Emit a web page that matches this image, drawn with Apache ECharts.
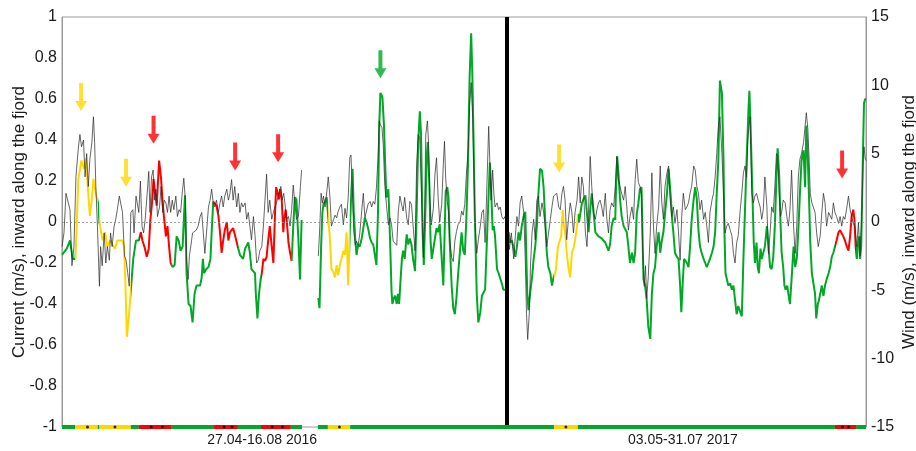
<!DOCTYPE html>
<html>
<head>
<meta charset="utf-8">
<script src="https://cdn.jsdelivr.net/npm/echarts@6/dist/echarts.min.js"></script>
<style>
  html, body { margin: 0; padding: 0; background: #fff; }
  #chart { width: 916px; height: 451px; }
</style>
</head>
<body>
<div id="chart"></div>
<script>
// Time axis in days since the start of the first record; the 2017 record follows the 2016 one.
const SEP = 111.8;
const X_MAX = 202;

// Period labels and where they sit along the time axis
const periodLabels = ['27.04-16.08 2016', '03.05-31.07 2017'];
const periodLabelDays = [50.3, 156];

// Regime intervals [startDay, endDay, kind]; kind null = no data
const regimeSegments = [
  [0, 3.3, 'g'], [3.3, 9.0, 'y'], [9.0, 9.4, 'g'], [9.4, 17.3, 'y'], [17.3, 19.3, 'g'],
  [19.3, 27.4, 'r'], [27.4, 38.2, 'g'], [38.2, 44.2, 'r'], [44.2, 50.0, 'g'], [50.0, 57.5, 'r'],
  [57.5, 60.3, 'g'], [60.3, 64.3, null], [64.3, 66.8, 'g'], [66.8, 72.4, 'y'], [72.4, 111.8, 'g'],
  [111.8, 123.6, 'g'], [123.6, 129.6, 'y'], [129.6, 194.2, 'g'], [194.2, 199.5, 'r'], [199.5, 202, 'g']
];

// Event markers on the regime bar (days)
const eventDays = [6.4, 13.3, 22.4, 25.2, 40.7, 42.7, 52.8, 55.4, 69.7, 126.6, 196.1, 197.6];

// Event arrows [day, current level (m/s) at arrow centre, kind]
const eventArrows = [
  [4.8, 0.61, 'y'], [16.1, 0.24, 'y'], [23.0, 0.45, 'r'], [43.5, 0.32, 'r'],
  [54.3, 0.36, 'r'], [80.0, 0.77, 'g'], [124.9, 0.31, 'y'], [196.0, 0.28, 'r']
];

// Along-fjord current (m/s) [day, value]
const currentObs = [
  [0,-0.16],[1.2,-0.13],[2.0,-0.09],[2.7,-0.18],[3.4,-0.18],[4.1,0.21],[4.9,0.30],[5.5,0.26],[6.0,0.31],[6.6,0.14],
  [7.0,0.03],[7.5,0.11],[7.9,0.21],[8.5,0.14],[9.1,0.09],[9.4,0.0],[10.2,-0.09],[10.8,-0.05],[11.4,-0.12],[12.1,-0.09],
  [12.7,-0.11],[13.3,-0.13],[13.9,-0.09],[14.6,-0.09],[15.2,-0.09],[15.6,-0.12],[15.9,-0.28],[16.3,-0.56],[16.8,-0.46],[17.3,-0.33],
  [17.9,-0.18],[18.6,-0.09],[19.3,-0.09],[19.8,-0.05],[20.2,-0.09],[20.7,-0.12],[21.3,-0.17],[21.8,-0.13],[22.2,0.01],[22.6,0.09],
  [23.0,0.21],[23.4,0.14],[23.8,0.08],[24.4,0.30],[24.9,0.21],[25.3,0.09],[25.7,0.01],[26.1,-0.07],[26.5,-0.02],[26.9,-0.12],
  [27.3,-0.20],[27.8,-0.22],[28.3,-0.21],[28.8,-0.07],[29.3,-0.09],[29.8,-0.14],[30.3,-0.12],[30.9,0.13],[31.3,-0.25],[31.8,-0.40],
  [32.3,-0.41],[32.8,-0.49],[33.3,-0.35],[33.8,-0.31],[34.7,-0.31],[35.1,-0.27],[35.4,-0.18],[35.7,-0.25],[36.2,-0.23],[36.8,-0.22],
  [37.3,-0.18],[37.6,-0.05],[38.0,0.10],[38.4,0.10],[38.8,0.08],[39.3,0.03],[39.7,-0.05],[40.1,-0.15],[40.5,-0.09],[40.9,-0.04],
  [41.4,0.0],[41.8,-0.09],[42.2,-0.05],[42.6,-0.04],[43.0,-0.03],[43.4,-0.06],[43.9,-0.06],[44.3,-0.13],[44.7,-0.16],[45.1,-0.17],
  [45.5,-0.18],[46.0,-0.13],[46.4,-0.13],[46.8,-0.10],[47.2,-0.15],[47.6,-0.23],[48.1,-0.23],[48.5,-0.25],[48.7,-0.35],[49.1,-0.47],
  [49.5,-0.35],[49.9,-0.28],[50.2,-0.25],[50.6,-0.18],[51.0,-0.19],[51.4,-0.17],[51.8,-0.09],[52.2,-0.02],[52.7,-0.12],[53.1,-0.20],
  [53.5,0.03],[53.8,0.17],[54.2,0.14],[54.5,0.11],[54.8,0.16],[55.2,0.11],[55.6,-0.05],[55.8,0.01],[56.2,0.06],[56.5,0.0],
  [56.9,-0.10],[57.3,-0.15],[57.7,-0.19],[58.1,-0.02],[58.5,0.12],[58.9,0.11],[59.4,-0.09],[59.8,-0.28],[60.2,0.01],[62,null],
  [64.4,-0.37],[64.7,-0.42],[65.1,-0.12],[65.4,0.04],[65.7,0.09],[66.1,0.10],[66.5,0.12],[66.9,0.12],[67.3,-0.08],[67.7,-0.23],
  [68.1,-0.24],[68.6,-0.27],[69.0,-0.21],[69.4,-0.26],[69.8,-0.21],[70.2,-0.18],[70.7,-0.14],[71.1,-0.16],[71.5,-0.05],[71.9,-0.31],
  [72.3,-0.05],[72.7,0.15],[73.0,0.26],[73.3,0.05],[73.7,-0.09],[74.0,-0.16],[74.4,-0.11],[74.8,-0.12],[75.3,-0.08],[75.7,-0.03],
  [76.1,0.02],[76.5,0.0],[76.9,-0.03],[77.4,-0.08],[77.8,-0.10],[78.2,-0.11],[78.6,-0.16],[79.0,-0.21],[79.4,0.05],[79.7,0.47],
  [80.0,0.63],[80.5,0.61],[80.9,0.47],[81.2,0.28],[81.5,0.12],[82.0,0.16],[82.2,0.05],[82.5,-0.14],[82.8,-0.34],[83.0,-0.40],
  [83.4,-0.37],[83.7,-0.36],[84.1,-0.40],[84.4,-0.35],[84.7,-0.40],[85.1,-0.27],[85.4,-0.18],[85.7,-0.14],[86.1,-0.18],[86.6,-0.06],
  [87.0,-0.11],[87.4,-0.08],[87.8,-0.11],[88.2,-0.18],[88.7,-0.24],[89.1,0.05],[89.5,0.39],[89.9,0.54],[90.2,0.43],[90.6,-0.05],
  [90.9,-0.21],[91.3,0.05],[91.6,0.31],[91.9,0.39],[92.3,0.18],[92.6,-0.09],[92.9,-0.18],[93.3,-0.13],[93.7,-0.08],[94.1,-0.03],
  [94.5,-0.05],[94.9,-0.01],[95.4,-0.18],[95.8,-0.31],[96.1,-0.08],[96.4,0.15],[96.8,0.17],[97.1,0.12],[97.4,-0.09],[97.9,-0.31],
  [98.3,-0.42],[98.7,-0.45],[99.1,-0.37],[99.5,-0.26],[100.0,-0.14],[100.4,-0.05],[100.8,-0.14],[101.2,-0.16],[101.6,0.02],[102.0,0.28],
  [102.4,0.70],[102.8,0.92],[103.1,0.72],[103.4,0.40],[103.7,0.05],[104.2,-0.35],[104.6,-0.49],[105.1,-0.44],[105.5,-0.36],[105.9,-0.36],
  [106.3,-0.33],[106.7,-0.12],[107.2,0.14],[107.5,0.29],[107.8,0.17],[108.2,-0.04],[108.5,-0.02],[108.8,-0.07],[109.3,-0.23],[109.7,-0.25],
  [110.1,-0.25],[110.5,-0.30],[110.9,-0.33],[111.3,-0.33],[111.8,-0.33],
  [112.2,-0.05],[112.6,-0.10],[113.0,-0.09],[113.4,-0.12],[113.9,-0.17],[114.3,-0.12],[114.7,-0.05],[115.1,-0.09],[115.5,-0.02],[116.0,0.03],
  [116.4,0.05],[116.6,-0.12],[116.9,-0.35],[117.2,-0.43],[117.6,-0.35],[118.1,-0.27],[118.5,-0.18],[118.9,-0.12],[119.3,-0.02],[119.7,0.14],
  [120.1,0.26],[120.6,0.25],[121.0,0.17],[121.4,0.01],[121.8,-0.15],[122.2,-0.22],[122.7,-0.25],[123.1,-0.31],[123.5,-0.27],[123.9,-0.25],
  [124.1,-0.23],[124.6,-0.12],[125.0,-0.12],[125.4,-0.07],[125.8,0.06],[126.1,-0.02],[126.4,-0.05],[126.8,-0.15],[127.3,-0.23],[127.7,-0.27],
  [128.1,-0.15],[128.5,-0.13],[128.9,-0.09],[129.4,-0.02],[129.6,0.04],[129.9,0.0],[130.3,0.05],[130.6,0.09],[131.0,0.11],[131.5,0.13],
  [131.9,0.04],[132.3,-0.05],[132.7,0.06],[133.1,0.14],[133.5,0.06],[134.0,-0.05],[134.4,-0.06],[134.8,-0.07],[135.2,-0.07],[135.6,-0.08],
  [136.0,-0.09],[136.5,-0.10],[136.9,-0.12],[137.3,-0.14],[137.7,-0.11],[138.1,-0.02],[138.6,0.02],[139.0,0.01],[139.2,0.17],[139.5,0.32],
  [139.8,0.24],[140.2,0.11],[140.6,0.03],[141.1,-0.02],[141.5,-0.02],[141.9,-0.05],[142.3,-0.12],[142.7,-0.20],[143.2,-0.15],[143.6,-0.20],
  [144.0,-0.15],[144.4,0.04],[144.8,0.09],[145.2,0.16],[145.6,0.17],[145.8,-0.02],[146.1,-0.28],[146.5,-0.31],[146.9,-0.38],[147.3,-0.51],
  [147.8,-0.57],[148.2,-0.35],[148.6,-0.25],[149.0,-0.22],[149.4,-0.12],[149.9,-0.05],[150.3,-0.15],[150.7,-0.09],[151.1,-0.05],[151.5,0.04],
  [152.0,0.14],[152.4,0.26],[152.6,0.21],[153.0,0.11],[153.3,0.01],[153.6,-0.05],[154.0,-0.15],[154.5,-0.17],[154.9,-0.18],[155.3,-0.31],
  [155.6,-0.44],[156.0,-0.28],[156.3,-0.18],[156.6,-0.18],[157.0,-0.20],[157.4,-0.22],[157.8,-0.12],[158.2,0.01],[158.7,0.11],[159.1,0.17],
  [159.5,0.11],[159.9,-0.04],[160.3,-0.12],[160.7,-0.15],[161.2,-0.18],[161.6,-0.20],[162.0,-0.22],[162.4,-0.20],[162.8,-0.18],[163.3,-0.15],
  [163.7,-0.12],[164.1,-0.05],[164.5,0.14],[164.9,0.30],[165.3,0.69],[165.8,0.63],[166.2,0.30],[166.4,-0.02],[166.7,-0.25],[167.0,-0.25],
  [167.4,-0.31],[167.9,-0.30],[168.3,-0.33],[168.7,-0.31],[169.1,-0.38],[169.5,-0.45],[169.9,-0.41],[170.4,-0.41],[170.8,-0.46],[171.2,-0.18],
  [171.6,0.06],[172.0,0.30],[172.5,0.56],[172.7,0.64],[173.0,0.47],[173.5,0.11],[173.8,-0.10],[174.1,-0.20],[174.5,-0.10],[174.8,-0.22],
  [175.1,-0.25],[175.5,-0.13],[175.8,-0.18],[176.2,-0.18],[176.6,-0.12],[177.1,-0.02],[177.5,-0.12],[177.9,-0.22],[178.3,-0.23],[178.7,-0.17],
  [179.1,-0.02],[179.5,0.22],[179.8,0.36],[180.2,0.22],[180.5,0.01],[180.8,-0.15],[181.2,-0.22],[181.5,-0.31],[181.8,-0.33],[182.2,-0.31],
  [182.5,-0.35],[182.9,-0.40],[183.3,-0.28],[183.8,-0.12],[184.2,-0.22],[184.6,-0.18],[185.0,-0.04],[185.4,0.14],[185.8,0.30],[186.3,0.35],
  [186.7,0.17],[187.0,0.47],[187.4,0.30],[187.7,0.11],[188.0,-0.10],[188.4,-0.25],[188.8,-0.25],[189.2,-0.35],[189.5,-0.47],[189.9,-0.40],
  [190.2,-0.38],[190.5,-0.35],[190.9,-0.31],[191.3,-0.36],[191.7,-0.31],[192.1,-0.28],[192.6,-0.25],[193.0,-0.22],[193.4,-0.17],[193.8,-0.15],
  [194.2,-0.15],[194.6,-0.09],[195.1,-0.05],[195.5,-0.04],[195.9,-0.04],[196.3,-0.07],[196.7,-0.09],[197.2,-0.12],[197.6,-0.14],[198.0,-0.07],
  [198.4,0.03],[198.8,0.06],[199.1,0.01],[199.4,-0.12],[199.7,-0.18],[199.9,-0.12],[200.3,-0.07],[200.5,-0.18],[200.8,-0.12],[201.2,0.30],
  [201.5,0.58],[201.8,0.60],[202.0,0.60]
];

// Along-fjord wind (m/s) [day, value]
const windObs = [
  [0,-1.8],[0.5,-0.8],[1.0,2.1],[1.5,2.2],[2.0,0.9],[2.5,-3.2],[3.0,-1.8],[3.5,3.3],[4.1,5.4],[4.5,6.4],
  [4.9,5.5],[5.4,6.0],[5.8,3.3],[6.2,5.0],[6.6,2.6],[7.0,4.6],[7.5,5.8],[7.9,7.7],[8.2,5.8],[8.5,2.6],
  [8.9,-0.3],[9.4,-4.7],[9.7,-1.8],[10.1,-3.2],[10.6,-0.8],[11.0,-3.0],[11.4,-1.8],[11.9,-2.8],[12.2,-0.8],[12.6,-1.8],
  [13.1,-0.3],[13.5,0.2],[13.9,0.9],[14.4,1.9],[14.8,2.0],[15.2,0.7],[15.7,-2.5],[16.1,-2.8],[16.5,-3.7],[16.9,-4.7],
  [17.3,0.7],[17.8,0.9],[18.1,-0.8],[18.6,1.9],[18.9,1.4],[19.3,0.7],[19.7,3.0],[20.1,-0.3],[20.5,-0.8],[20.9,0.2],
  [21.4,2.1],[21.8,3.7],[22.1,0.7],[22.5,3.3],[22.9,3.8],[23.2,1.6],[23.6,2.4],[24.0,0.4],[24.5,1.1],[24.9,2.6],
  [25.3,0.7],[25.7,1.6],[26.1,1.4],[26.5,0.7],[26.9,1.9],[27.3,0.7],[27.7,1.6],[28.1,0.9],[28.6,1.9],[29.0,0.4],
  [29.4,0.9],[29.8,0.7],[30.2,2.1],[30.6,3.2],[31.0,1.6],[31.3,-2.8],[31.7,-4.2],[32.0,-2.5],[32.4,-1.7],[32.8,-0.8],
  [33.2,-0.8],[33.7,-0.6],[34.2,-0.3],[34.7,0.4],[35.1,0.7],[35.5,-0.8],[35.9,-2.3],[36.3,-0.8],[36.8,1.1],[37.2,1.6],
  [37.6,2.4],[38.0,1.4],[38.4,1.1],[38.8,1.6],[39.3,0.7],[39.7,1.4],[40.1,1.9],[40.5,1.1],[40.9,1.9],[41.4,2.4],
  [41.8,1.6],[42.2,2.1],[42.6,3.1],[43.0,1.6],[43.4,2.6],[43.9,1.1],[44.3,2.1],[44.7,0.7],[45.1,1.4],[45.5,1.1],
  [46.0,1.4],[46.4,0.2],[46.8,0.7],[47.2,-0.3],[47.6,-1.3],[48.1,0.4],[48.5,-1.0],[48.9,-3.0],[49.3,-2.8],[49.7,-2.1],
  [50.2,-1.8],[50.6,-0.3],[51.0,1.6],[51.4,3.5],[51.8,0.7],[52.2,1.6],[52.7,0.2],[53.1,0.7],[53.5,1.1],[53.9,1.4],
  [54.3,1.9],[54.8,2.4],[55.0,2.6],[55.3,1.6],[55.7,2.1],[56.0,1.4],[56.4,0.2],[56.9,0.4],[57.3,-0.3],[57.7,0.9],
  [58.1,2.7],[58.5,1.4],[58.9,0.2],[59.4,0.4],[59.9,2.6],[60.2,3.8],[62,null],[64.4,-2.5],[64.7,-0.8],[65.1,2.1],
  [65.4,1.4],[65.7,1.9],[66.1,1.1],[66.6,2.4],[66.9,3.3],[67.3,1.9],[67.7,-0.3],[68.1,-0.2],[68.6,0.5],[69.0,0.3],
  [69.4,0.8],[69.8,1.1],[70.2,1.3],[70.7,-0.2],[71.1,1.0],[71.5,0.3],[71.9,1.8],[72.3,4.7],[72.6,4.9],[72.9,2.7],
  [73.3,-0.7],[73.7,-1.7],[74.0,-1.4],[74.4,-1.7],[74.8,-0.9],[75.3,0.8],[75.7,2.1],[76.1,0.3],[76.5,0.8],[76.9,1.3],
  [77.4,1.5],[77.8,1.1],[78.2,1.5],[78.6,1.3],[79.0,2.5],[79.4,4.7],[79.7,7.4],[80.0,7.1],[80.4,6.9],[80.7,5.7],
  [81.1,2.7],[81.5,1.3],[82.0,-0.2],[82.4,0.3],[82.8,-0.2],[83.2,-1.4],[83.6,-1.4],[84.1,-1.7],[84.5,0.8],[84.9,1.9],
  [85.3,1.3],[85.7,0.8],[86.1,1.8],[86.6,0.3],[87.0,-0.2],[87.4,1.5],[87.8,1.3],[88.2,-0.2],[88.7,-2.1],[89.1,4.2],
  [89.5,6.4],[89.9,6.1],[90.3,2.2],[90.8,-2.6],[91.1,0.8],[91.4,6.4],[91.8,7.4],[92.1,5.7],[92.4,1.8],[92.8,-0.2],
  [93.3,1.0],[93.7,3.5],[94.1,4.7],[94.5,1.8],[94.9,0.0],[95.4,1.3],[95.8,4.2],[96.1,5.9],[96.4,3.2],[96.8,1.5],
  [97.1,0.8],[97.4,-1.2],[97.9,-2.6],[98.3,-2.9],[98.7,-1.4],[99.1,-0.7],[99.5,-0.2],[100.0,0.0],[100.4,0.8],[100.8,0.5],
  [101.2,1.3],[101.6,3.5],[102.0,5.0],[102.4,8.5],[102.8,10.2],[103.2,7.5],[103.5,3.5],[103.8,-0.3],[104.2,-2.3],[104.6,-1.3],
  [105.1,-0.3],[105.5,0.7],[105.9,0.9],[106.3,-1.5],[106.7,2.1],[107.2,7.0],[107.5,4.3],[107.8,1.6],[108.2,3.8],[108.5,2.1],
  [108.8,1.1],[109.3,1.4],[109.7,0.9],[110.1,1.1],[110.5,0.4],[110.9,0.2],[111.3,0.4],[112.0,-0.6],[112.4,-2.0],[112.9,-0.8],
  [113.2,-1.8],[113.5,-2.7],[113.9,-1.0],[114.3,0.4],[114.7,-0.3],[115.1,1.4],[115.5,1.9],[116.0,0.7],[116.4,-2.8],[116.7,-6.7],
  [117.0,-8.6],[117.4,-6.7],[117.7,-3.2],[118.1,-0.8],[118.5,0.2],[118.9,-1.3],[119.3,1.6],[119.7,1.9],[120.1,0.4],[120.6,1.4],
  [121.0,0.7],[121.4,-0.3],[121.8,-1.8],[122.2,-1.8],[122.7,0.2],[123.1,1.1],[123.5,1.9],[123.9,1.9],[124.3,2.1],[124.8,1.1],
  [125.2,0.9],[125.6,2.1],[126.0,2.6],[126.4,1.6],[126.8,-1.3],[127.3,0.4],[127.7,1.4],[128.1,0.7],[128.5,-0.8],[128.9,0.7],
  [129.4,1.6],[129.8,3.3],[130.2,1.4],[130.6,3.3],[131.0,2.6],[131.5,-0.8],[131.9,-1.8],[132.3,0.9],[132.7,4.8],[133.1,2.6],
  [133.5,0.7],[134.0,0.2],[134.4,0.9],[134.8,1.4],[135.2,1.6],[135.6,1.1],[136.0,0.4],[136.5,2.1],[136.9,0.2],[137.3,-0.8],
  [137.7,0.9],[138.1,1.4],[138.6,1.1],[139.0,2.6],[139.4,4.8],[139.8,3.1],[140.2,2.6],[140.6,2.1],[141.1,1.6],[141.5,2.6],
  [141.9,1.1],[142.3,-0.6],[142.7,0.4],[143.2,1.1],[143.6,0.2],[144.0,3.1],[144.4,4.6],[144.8,2.9],[145.2,2.6],[145.6,2.1],
  [145.9,-2.3],[146.3,-4.7],[146.6,-3.2],[146.9,-5.6],[147.3,-4.0],[147.8,-0.8],[148.2,3.6],[148.6,-0.3],[149.0,-2.3],[149.4,-0.3],
  [149.9,1.1],[150.3,4.1],[150.7,1.4],[151.1,0.2],[151.5,2.6],[152.0,3.6],[152.4,4.1],[152.8,1.6],[153.2,0.4],[153.6,1.1],
  [154.0,-0.1],[154.5,0.9],[154.9,-0.8],[155.3,-2.8],[155.7,0.4],[156.1,2.1],[156.6,0.9],[157.0,1.1],[157.4,1.4],[157.8,2.1],
  [158.2,2.6],[158.7,4.1],[159.1,3.8],[159.5,2.6],[159.9,2.1],[160.3,0.9],[160.7,1.6],[161.2,0.2],[161.6,0.7],[162.0,-0.3],
  [162.4,-1.5],[162.8,0.7],[163.3,1.6],[163.7,2.1],[164.1,3.3],[164.5,5.0],[164.9,7.0],[165.3,7.7],[165.8,5.0],[166.2,2.1],
  [166.6,-0.8],[167.0,-0.3],[167.4,-0.1],[167.9,-0.6],[168.3,-1.0],[168.7,-2.3],[169.1,-3.0],[169.5,-1.5],[169.9,-1.0],[170.4,0.9],
  [170.8,2.1],[171.2,3.6],[171.6,4.1],[172.0,3.3],[172.3,6.0],[172.6,7.0],[172.9,7.7],[173.3,2.1],[173.7,1.4],[174.1,1.9],
  [174.5,2.1],[174.9,1.6],[175.4,1.1],[175.8,0.2],[176.2,0.9],[176.6,3.3],[177.1,1.1],[177.5,-2.3],[177.9,-0.8],[178.3,1.1],
  [178.7,0.7],[179.1,2.6],[179.5,5.0],[179.8,4.8],[180.2,2.1],[180.5,0.4],[180.8,0.7],[181.2,1.6],[181.7,1.4],[182.1,0.4],
  [182.5,-0.3],[182.9,0.9],[183.3,3.8],[183.8,-0.3],[184.2,-2.3],[184.6,-0.3],[185.0,3.3],[185.4,4.6],[185.8,5.0],[186.3,5.8],
  [186.7,7.0],[187.0,8.0],[187.4,6.8],[187.7,4.6],[188.0,2.1],[188.4,1.4],[188.8,1.5],[189.2,0.7],[189.6,-0.8],[190.0,-1.8],
  [190.5,-1.0],[190.9,0.7],[191.3,2.1],[191.7,1.4],[192.1,-0.3],[192.6,0.7],[193.0,0.7],[193.4,0.2],[193.8,1.4],[194.2,0.7],
  [194.6,0.4],[195.1,-0.1],[195.5,0.4],[195.9,-0.3],[196.3,0.4],[196.7,0.2],[197.2,1.1],[197.6,1.9],[198.0,0.9],[198.4,0.4],
  [198.8,-0.1],[199.2,-0.3],[199.7,-1.8],[200.1,0.0],[200.5,-2.5],[200.9,0.2],[201.3,4.6],[201.5,5.5],[201.8,4.6],[202.0,4.5]
];

const regimeColors = { g: '#00A826', y: '#FFD700', r: '#FF0000' };
const FONT = 'Liberation Sans, Arial, sans-serif';
const TEXT = '#1a1a1a';

const validSegments = regimeSegments.filter(s => s[2]);
const pieces = validSegments.map((s, i) => {
  const p = { gte: s[0], color: regimeColors[s[2]] };
  if (i === validSegments.length - 1) p.lte = s[1] + 1; else p.lt = s[1];
  return p;
});

const arrowPath = 'path://M4,0L8,0L8,18L12,18L6,28L0,18L4,18Z';

const chart = echarts.init(document.getElementById('chart'), null, { renderer: 'canvas' });
chart.setOption({
  animation: false,
  backgroundColor: '#fff',
  grid: {
    left: 62, right: 50, top: 17, bottom: 24,
    show: true, borderColor: '#9a9a9a', borderWidth: 1,
    containLabel: false, outerBoundsMode: 'none'
  },
  visualMap: {
    type: 'piecewise', show: false, dimension: 0, seriesIndex: 0,
    pieces: pieces, outOfRange: { color: regimeColors.g }
  },
  xAxis: {
    type: 'value', min: 0, max: X_MAX,
    axisLine: { show: false }, axisTick: { show: false }, splitLine: { show: false },
    axisLabel: {
      customValues: periodLabelDays,
      formatter: v => (v < SEP ? periodLabels[0] : periodLabels[1]),
      fontFamily: FONT, fontSize: 14, color: TEXT, margin: 6
    }
  },
  yAxis: [
    {
      type: 'value', min: -1, max: 1, interval: 0.2,
      axisLine: { show: true, lineStyle: { color: '#9a9a9a' } }, axisTick: { show: false }, splitLine: { show: false },
      axisLabel: {
        fontFamily: FONT, fontSize: 16, color: TEXT, margin: 5,
        formatter: v => { const r = Math.round(v * 10) / 10; return r === 0 ? '0' : String(r); }
      },
      name: 'Current (m/s), inward along the fjord', nameLocation: 'middle', nameRotate: 90,
      nameGap: 34, nameMoveOverlap: false,
      nameTextStyle: { fontFamily: FONT, fontSize: 17, color: TEXT }
    },
    {
      type: 'value', min: -15, max: 15, interval: 5, position: 'right',
      axisLine: { show: true, lineStyle: { color: '#9a9a9a' } }, axisTick: { show: false }, splitLine: { show: false },
      axisLabel: { fontFamily: FONT, fontSize: 16, color: TEXT, margin: 5 },
      name: 'Wind (m/s), inward along the fjord', nameLocation: 'middle', nameRotate: 90,
      nameGap: 35, nameMoveOverlap: false,
      nameTextStyle: { fontFamily: FONT, fontSize: 17, color: TEXT }
    }
  ],
  series: [
    {
      name: 'Current', type: 'line', yAxisIndex: 0, data: currentObs,
      showSymbol: false, symbol: 'none', connectNulls: false,
      lineStyle: { width: 2 }, z: 3
    },
    {
      name: 'Wind', type: 'line', yAxisIndex: 1, data: windObs,
      showSymbol: false, symbol: 'none', connectNulls: false,
      lineStyle: { width: 0.8, color: '#2a2a2a', opacity: 0.9 }, itemStyle: { color: '#2a2a2a' }, z: 4,
      markLine: {
        silent: true, symbol: 'none', label: { show: false }, animation: false,
        data: [
          { yAxis: 0, lineStyle: { color: '#8a8a8a', width: 0.8, type: [2, 2] } },
          { xAxis: SEP, lineStyle: { color: '#000', width: 4, type: 'solid' } }
        ]
      }
    },
    {
      name: 'Regime', type: 'custom', xAxisIndex: 0, yAxisIndex: 0, silent: true, z: 5,
      data: validSegments.map(s => ({ value: [s[0], s[1], -1], itemStyle: { color: regimeColors[s[2]] } })),
      encode: { x: [0, 1], y: 2 },
      renderItem: (params, api) => {
        const a = api.coord([api.value(0), api.value(2)]);
        const b = api.coord([api.value(1), api.value(2)]);
        return { type: 'rect', shape: { x: a[0], y: a[1] - 2, width: b[0] - a[0], height: 4 }, style: { fill: api.visual('color') } };
      }
    },
    {
      name: 'Events', type: 'scatter', yAxisIndex: 0, silent: true, z: 6,
      data: eventDays.map(d => [d, -1]), symbolSize: 3, itemStyle: { color: '#000' }
    },
    {
      name: 'Arrows', type: 'scatter', yAxisIndex: 0, silent: true, z: 7,
      symbol: arrowPath, symbolSize: [12, 28],
      data: eventArrows.map(a => ({ value: [a[0], a[1]], itemStyle: { color: regimeColors[a[2]] } }))
    }
  ]
});
</script>
</body>
</html>
